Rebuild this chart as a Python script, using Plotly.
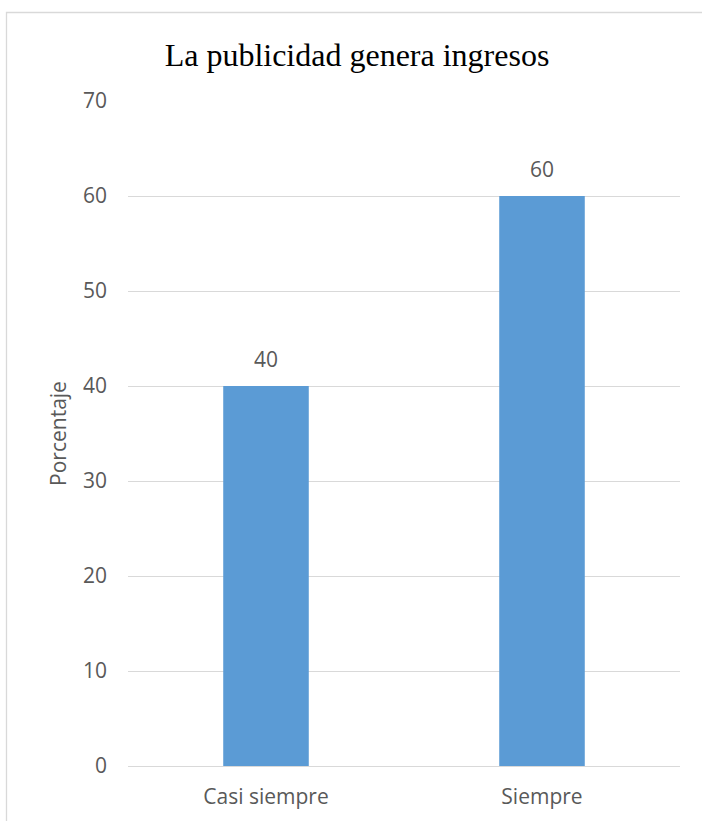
import plotly.graph_objects as go

# Survey results: "La publicidad genera ingresos"
categories = ["Casi siempre", "Siempre"]
percentages = [40, 60]
y_ticks = [0, 10, 20, 30, 40, 50, 60, 70]

W, H = 702, 821
M_L, M_R, M_T, M_B = 128, 22, 101, 55

bar_color = "#5b9bd5"
grid_color = "#d9d9d9"
text_color = "#595959"
label_font = dict(family="Open Sans, Calibri, sans-serif", size=21, color=text_color)

fig = go.Figure(
    go.Bar(
        x=categories,
        y=percentages,
        marker=dict(color=bar_color, line=dict(width=0)),
        width=0.31,
        hoverinfo="skip",
    )
)

# Value labels above each bar
for cat, val in zip(categories, percentages):
    fig.add_annotation(
        x=cat, y=val, text=str(val), showarrow=False,
        yanchor="bottom", yshift=11, font=label_font,
    )

plot_w = W - M_L - M_R
plot_h = H - M_T - M_B

def px_to_paper_x(px):
    return (px - M_L) / plot_w

def px_to_paper_y(py):
    return (H - M_B - py) / plot_h

# Chart frame (left and top edges visible in the window)
fig.add_shape(
    type="rect", xref="paper", yref="paper",
    x0=px_to_paper_x(6.5), x1=px_to_paper_x(720),
    y0=px_to_paper_y(840), y1=px_to_paper_y(12.5),
    line=dict(color=grid_color, width=1.3), fillcolor="rgba(0,0,0,0)",
    layer="below",
)

fig.update_layout(
    width=W, height=H,
    margin=dict(l=M_L, r=M_R, t=M_T, b=M_B),
    paper_bgcolor="white", plot_bgcolor="white",
    showlegend=False,
    title=dict(
        text="La publicidad genera ingresos",
        x=px_to_paper_x(357), xref="paper", xanchor="center",
        y=1 - 55 / H, yref="container", yanchor="middle",
        font=dict(family="Liberation Serif, Times New Roman, serif", size=32, color="#000000"),
    ),
    xaxis=dict(
        showgrid=False, zeroline=False, showline=False,
        tickfont=label_font, ticks="", ticklabelstandoff=16,
        fixedrange=True,
    ),
    yaxis=dict(
        range=[0, 70], tickvals=y_ticks,
        showgrid=True, gridcolor=grid_color, gridwidth=1.3,
        zeroline=True, zerolinecolor=grid_color, zerolinewidth=1.3,
        showline=False, ticks="", ticklabelstandoff=20,
        tickfont=label_font,
        title=dict(text="Porcentaje", font=label_font, standoff=10),
        fixedrange=True,
    ),
)

fig.write_html("out.html")
